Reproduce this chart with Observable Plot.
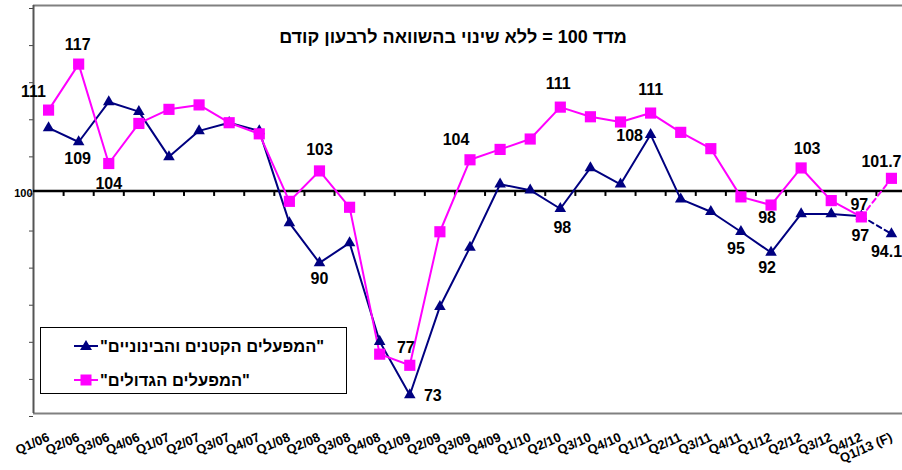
<!DOCTYPE html>
<html><head><meta charset="utf-8">
<script src="https://cdn.jsdelivr.net/npm/d3@7"></script>
<script src="https://cdn.jsdelivr.net/npm/@observablehq/plot@0.6"></script>
<style>
html,body{margin:0;padding:0;background:#fff;overflow:hidden;width:902px;height:470px}
#wrap{position:relative;width:906px;height:470px;font-family:Arial,"Liberation Sans",sans-serif}
#title{position:absolute;left:203px;width:500px;top:27px;text-align:center;font-weight:bold;font-size:18px;color:#000;white-space:nowrap}
#legend{position:absolute;left:40px;top:327px;width:307px;height:67px;border:1px solid #000;box-sizing:border-box;background:#fff}
.row{position:absolute;left:0;height:20px;width:100%}
.row svg{position:absolute;left:32px;top:0}
.row span{position:absolute;left:59px;top:0px;font-weight:bold;font-size:16.5px;white-space:nowrap;color:#000}
</style>
</head><body>
<div id="wrap">
</div>
<script>
const quarters = ["Q1/06","Q2/06","Q3/06","Q4/06","Q1/07","Q2/07","Q3/07","Q4/07","Q1/08","Q2/08","Q3/08","Q4/08","Q1/09","Q2/09","Q3/09","Q4/09","Q1/10","Q2/10","Q3/10","Q4/10","Q1/11","Q2/11","Q3/11","Q4/11","Q1/12","Q2/12","Q3/12","Q4/12","Q1/13 (F)"];
const smallMedium = [108.5,106.6,112.0,110.7,104.6,108.1,109.2,108.1,95.7,90.3,93.0,79.7,72.5,84.4,92.4,100.9,100.1,97.6,103.1,100.9,107.6,98.9,97.2,94.5,91.7,96.9,96.9,96.6,94.2];
const large = [110.9,117.1,103.7,109.1,111.0,111.6,109.2,107.7,98.6,102.7,97.8,78.0,76.5,94.5,104.2,105.6,107.0,111.3,110.0,109.3,110.5,107.9,105.7,99.2,98.1,103.1,98.7,96.5,101.7];
const largeLabels = ["111","117","104","","","","","","","103","","","77","","104","","","111","","","111","","","","98","103","","97","101.7"];
const smallLabels = ["","109","","","","","","","","90","","","73","","","","","98","","","108","","","95","92","","","97","94.1"];
const yTicks = [70,75,80,85,90,95,100,105,110,115,120,125];
const seriesNames = ['"המפעלים הקטנים והבינוניים"', '"המפעלים הגדולים"'];
const titleText = "מדד 100 = ללא שינוי בהשוואה לרבעון קודם";

const NAVY = "#000080", MAG = "#FF00FF";
const n = quarters.length;
const rows = d3.range(n).map(i => ({i, q: quarters[i], s: smallMedium[i], l: large[i], sl: smallLabels[i], ll: largeLabels[i]}));
const solid = rows.slice(0, n - 1);
const dashed = rows.slice(n - 2);
const boundaries = d3.range(0.5, n - 1, 1);

const largeOff = {0:[-15,-18],1:[-1,-19],2:[0,20],9:[0,-21],12:[-4,-17],14:[-14,-20],17:[-2,-23],20:[0,-23],24:[-4,13],25:[6,-19],27:[-2,-12],28:[-10,-16]};
const smallOff = {1:[-1,17],9:[0,16],12:[23,1],17:[2,19],20:[-21,1],23:[-5,17],24:[-4,15],27:[-1,20],28:[-5,18]};

const tickSym = {draw(ctx){ctx.moveTo(0,0); ctx.lineTo(0,5);}};

const labelMarks = [];
rows.forEach(r => {
  if (r.ll) { const o = largeOff[r.i] || [0,-18];
    labelMarks.push(Plot.text([r], {x: "i", y: "l", text: "ll", dx: o[0], dy: o[1], fontSize: 16, fontWeight: "bold", fill: "#000"})); }
  if (r.sl) { const o = smallOff[r.i] || [0,18];
    labelMarks.push(Plot.text([r], {x: "i", y: "s", text: "sl", dx: o[0], dy: o[1], fontSize: 16, fontWeight: "bold", fill: "#000"})); }
});

const chart = Plot.plot({
  width: 906, height: 470,
  marginTop: 5, marginBottom: 57, marginLeft: 33, marginRight: 0,
  style: {fontFamily: 'Arial, "Liberation Sans", sans-serif', background: "white", color: "#000", overflow: "visible"},
  x: {type: "linear", domain: [-0.5, n - 0.5]},
  y: {domain: [70, 125]},
  marks: [
    Plot.ruleY([125, 70], {stroke: "#808080", strokeWidth: 2}),
    Plot.axisY({ticks: yTicks, tickSize: 4, tickPadding: -3, tickFormat: d => d === 100 ? "100" : "", fontSize: 11, fontWeight: "bold", dy: 3, stroke: "#444", label: null}),
    Plot.axisX({ticks: d3.range(n), tickFormat: i => quarters[i], tickSize: 0, tickRotate: -24, tickPadding: 23, fontSize: 13, fontWeight: "bold", label: null}),
    Plot.ruleX([-0.5], {stroke: "#555", strokeWidth: 2}),
    Plot.ruleY([100], {stroke: "#000", strokeWidth: 2.5}),
    Plot.dot(boundaries, {x: d => d, y: () => 100, symbol: tickSym, stroke: "#000", strokeWidth: 2, fill: "none"}),
    Plot.line(solid, {x: "i", y: "s", stroke: NAVY, strokeWidth: 2}),
    Plot.line(dashed, {x: "i", y: "s", stroke: NAVY, strokeWidth: 2, strokeDasharray: "5,4"}),
    Plot.line(solid, {x: "i", y: "l", stroke: MAG, strokeWidth: 2}),
    Plot.line(dashed, {x: "i", y: "l", stroke: MAG, strokeWidth: 2, strokeDasharray: "5,4"}),
    Plot.dot(rows, {x: "i", y: "s", symbol: "triangle", r: 4.3, fill: NAVY}),
    Plot.dot(rows, {x: "i", y: "l", symbol: "square", r: 6.3, fill: MAG}),
    ...labelMarks
  ]
});

const wrap = document.getElementById("wrap");
wrap.appendChild(chart);

const t = document.createElement("div");
t.id = "title"; t.dir = "rtl"; t.textContent = titleText;
wrap.appendChild(t);

const leg = document.createElement("div");
leg.id = "legend";
const syms = [
  `<svg width="26" height="18"><line x1="1" y1="9" x2="25" y2="9" stroke="${NAVY}" stroke-width="2"/><path d="M13,3 L19,13 L7,13 Z" fill="${NAVY}"/></svg>`,
  `<svg width="26" height="18"><line x1="1" y1="9" x2="25" y2="9" stroke="${MAG}" stroke-width="2"/><rect x="7.5" y="3.5" width="11" height="11" fill="${MAG}"/></svg>`
];
[0,1].forEach(k => {
  const r = document.createElement("div");
  r.className = "row"; r.style.top = (k === 0 ? 9 : 43) + "px";
  r.innerHTML = syms[k];
  const sp = document.createElement("span");
  sp.dir = "rtl"; sp.textContent = seriesNames[k];
  r.appendChild(sp);
  leg.appendChild(r);
});
wrap.appendChild(leg);
</script>
</body></html>
